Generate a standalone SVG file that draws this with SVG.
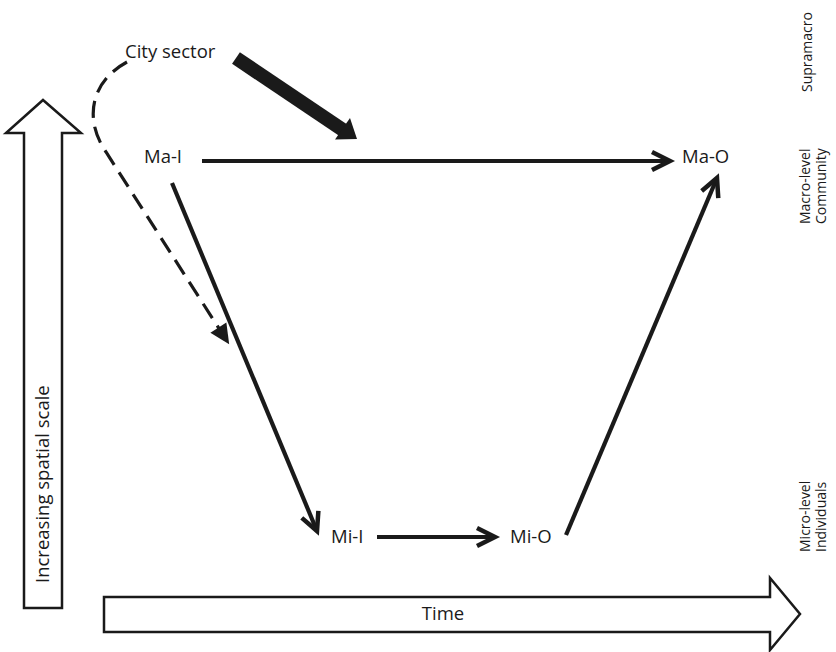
<svg xmlns="http://www.w3.org/2000/svg" width="836" height="652" viewBox="0 0 836 652">
  <style>
    .lbl { font-family: "Open Sans", "Liberation Sans", sans-serif; font-size: 18.5px; fill: #1a1a1a; }
    .side { font-family: "Open Sans", "Liberation Sans", sans-serif; font-size: 14px; fill: #1a1a1a; }
    .big { fill: #ffffff; stroke: #1a1a1a; stroke-width: 2.5; stroke-linejoin: miter; }
    .edge { fill: none; stroke: #1a1a1a; stroke-width: 4.2; }
    .dash { fill: none; stroke: #1a1a1a; stroke-width: 3.2; stroke-dasharray: 17 9; }
  </style>
  <defs>
    <marker id="chev" markerUnits="userSpaceOnUse" orient="auto" markerWidth="40" markerHeight="40" refX="0" refY="0" viewBox="-30 -20 40 40" overflow="visible">
      <path d="M-18,-9 L0,0 L-18,9" fill="none" stroke="#1a1a1a" stroke-width="4.5" stroke-linejoin="miter" stroke-miterlimit="10"/>
    </marker>
    <marker id="tri" markerUnits="userSpaceOnUse" orient="auto" markerWidth="40" markerHeight="40" refX="0" refY="0" viewBox="-30 -20 40 40" overflow="visible">
      <path d="M-16,-9.5 L4,0 L-16,9.5 Z" fill="#1a1a1a"/>
    </marker>
  </defs>
  <rect width="836" height="652" fill="#ffffff"/>

  <g id="axis-space">
    <polygon class="big" points="24,608 62,608 62,133 81,133 43,100 6,133 24,133"/>
    <text class="lbl" transform="translate(49,583) rotate(-90)" font-size="18.5">Increasing spatial scale</text>
  </g>
  <g id="axis-time">
    <polygon class="big" points="104,597 770,597 770,578 800,614 770,650 770,632 104,632"/>
    <text class="lbl" x="443" y="620" text-anchor="middle" font-size="18">Time</text>
  </g>

  <g id="level-labels">
    <text class="side" transform="translate(812,92) rotate(-90)">Supramacro</text>
    <text class="side" transform="translate(810,224) rotate(-90)">Macro-level</text>
    <text class="side" transform="translate(826,224) rotate(-90)">Community</text>
    <text class="side" transform="translate(810,552) rotate(-90)">Micro-level</text>
    <text class="side" transform="translate(826,552) rotate(-90)">Individuals</text>
  </g>

  <g id="node-city"><text class="lbl" x="125" y="58">City sector</text></g>
  <g id="node-mai"><text class="lbl" x="144" y="163">Ma-I</text></g>
  <g id="node-mao"><text class="lbl" x="682" y="163">Ma-O</text></g>
  <g id="node-mii"><text class="lbl" x="331" y="543">Mi-I</text></g>
  <g id="node-mio"><text class="lbl" x="510" y="543">Mi-O</text></g>

  <g id="connectors">
    <line class="edge" x1="202" y1="161" x2="670" y2="161" marker-end="url(#chev)"/>
    <line class="edge" x1="172" y1="183" x2="317" y2="531" marker-end="url(#chev)"/>
    <line class="edge" x1="377" y1="537" x2="495" y2="537" marker-end="url(#chev)"/>
    <line class="edge" x1="566" y1="535" x2="717" y2="178" marker-end="url(#chev)"/>
    <path class="dash" d="M127,62 C90,82 84,120 106,152 L227,341" marker-end="url(#tri)"/>
    <line x1="236" y1="58" x2="343" y2="130" stroke="#1a1a1a" stroke-width="14"/>
    <polygon points="357,139 335,139.5 350,118" fill="#1a1a1a"/>
  </g>
</svg>
